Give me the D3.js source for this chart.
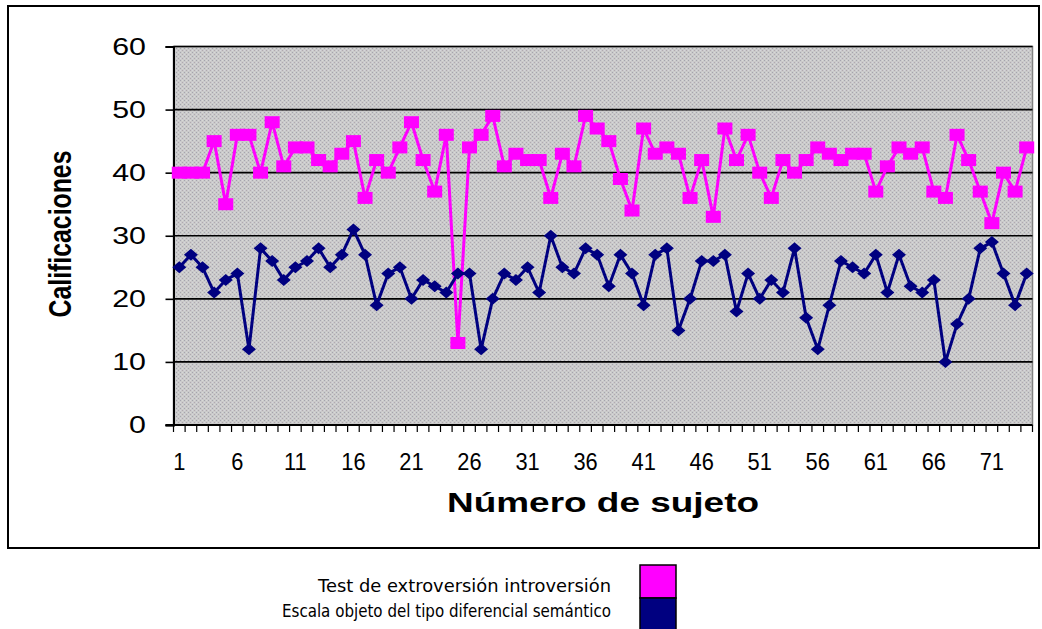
<!DOCTYPE html>
<html>
<head>
<meta charset="utf-8">
<script src="https://cdn.jsdelivr.net/npm/d3@7"></script>
<style>
  html, body { margin: 0; padding: 0; background: #ffffff; }
  svg { display: block; }
</style>
</head>
<body>
<svg id="chart" width="1042" height="629"></svg>
<script>
// ---------- data ----------
const subjects = [1,2,3,4,5,6,7,8,9,10,11,12,13,14,15,16,17,18,19,20,21,22,23,24,25,26,27,28,29,30,31,32,33,34,35,36,37,38,39,40,41,42,43,44,45,46,47,48,49,50,51,52,53,54,55,56,57,58,59,60,61,62,63,64,65,66,67,68,69,70,71,72,73,74];
const extroversion = [40,40,40,45,35,46,46,40,48,41,44,44,42,41,43,45,36,42,40,44,48,42,37,46,13,44,46,49,41,43,42,42,36,43,41,49,47,45,39,34,47,43,44,43,36,42,33,47,42,46,40,36,42,40,42,44,43,42,43,43,37,41,44,43,44,37,36,46,42,37,32,40,37,44];
const diferencial = [25,27,25,21,23,24,12,28,26,23,25,26,28,25,27,31,27,19,24,25,20,23,22,21,24,24,12,20,24,23,25,21,30,25,24,28,27,22,27,24,19,27,28,15,20,26,26,27,18,24,20,23,21,28,17,12,19,26,25,24,27,21,27,22,21,23,10,16,20,28,29,24,19,24];
const xTickLabels = [1,6,11,16,21,26,31,36,41,46,51,56,61,66,71];
const yTickValues = [0,10,20,30,40,50,60];
const seriesNames = ["Test de extroversión introversión", "Escala objeto del tipo diferencial semántico"];
const seriesColors = ["#ff00ff", "#000080"];

// ---------- layout ----------
const svg = d3.select("#chart");
const plot = { left: 173.5, right: 1032.5, top: 46.5, bottom: 425 };

const x = d3.scaleBand().domain(subjects).range([plot.left, plot.right]).padding(0);
const y = d3.scaleLinear().domain([0, 60]).range([plot.bottom, plot.top]);
const bw = x.bandwidth();
const cx = d => x(d) + bw / 2;

// outer chart frame
svg.append("rect")
  .attr("x", 8).attr("y", 6).attr("width", 1031).attr("height", 542)
  .attr("fill", "#ffffff").attr("stroke", "#000").attr("stroke-width", 2);

// dithered gray plot background
const defs = svg.append("defs");
const pat = defs.append("pattern").attr("id", "dither")
  .attr("width", 4).attr("height", 4).attr("patternUnits", "userSpaceOnUse");
pat.append("rect").attr("width", 4).attr("height", 4).attr("fill", "#cacaca");
pat.append("rect").attr("x", 0).attr("y", 0).attr("width", 1).attr("height", 1).attr("fill", "#a4a4ae");
pat.append("rect").attr("x", 2).attr("y", 2).attr("width", 1).attr("height", 1).attr("fill", "#b0a8b0");
pat.append("rect").attr("x", 2).attr("y", 0).attr("width", 1).attr("height", 1).attr("fill", "#d8d8d8");
pat.append("rect").attr("x", 0).attr("y", 2).attr("width", 1).attr("height", 1).attr("fill", "#d6d6dc");

svg.append("rect")
  .attr("x", plot.left).attr("y", plot.top)
  .attr("width", plot.right - plot.left).attr("height", plot.bottom - plot.top)
  .attr("fill", "url(#dither)").attr("stroke", "#808080").attr("stroke-width", 1.5);

// gridlines
svg.append("g").selectAll("line")
  .data(yTickValues.filter(v => v > 0))
  .join("line")
  .attr("x1", plot.left).attr("x2", plot.right)
  .attr("y1", d => y(d)).attr("y2", d => y(d))
  .attr("stroke", "#000").attr("stroke-width", 1.6);

// y axis
const yAxis = d3.axisLeft(y).tickValues(yTickValues).tickSize(8).tickPadding(0).tickFormat("");
const gy = svg.append("g").attr("transform", `translate(${plot.left},0)`).call(yAxis);
gy.select(".domain").attr("stroke", "#000").attr("stroke-width", 2);
gy.selectAll(".tick line").attr("stroke", "#000").attr("stroke-width", 1.6);

svg.append("g").selectAll("text")
  .data(yTickValues)
  .join("text")
  .attr("transform", d => `translate(146,${y(d) + 8}) scale(1.32,1)`)
  .attr("text-anchor", "end")
  .attr("font-family", "Liberation Sans, Arial, sans-serif")
  .attr("font-size", 23)
  .attr("fill", "#000")
  .text(d => d);

// x axis line and category boundary ticks
svg.append("line")
  .attr("x1", plot.left - 8).attr("x2", plot.right)
  .attr("y1", plot.bottom).attr("y2", plot.bottom)
  .attr("stroke", "#000").attr("stroke-width", 2);
const boundaries = subjects.map(d => x(d)).concat([x(subjects[subjects.length - 1]) + bw]);
svg.append("g").selectAll("line")
  .data(boundaries)
  .join("line")
  .attr("x1", d => d).attr("x2", d => d)
  .attr("y1", plot.bottom).attr("y2", plot.bottom + 7)
  .attr("stroke", "#000").attr("stroke-width", 1.2);

svg.append("g").selectAll("text")
  .data(xTickLabels)
  .join("text")
  .attr("transform", d => `translate(${cx(d)},470) scale(0.95,1.05)`)
  .attr("text-anchor", "middle")
  .attr("font-family", "Liberation Sans, Arial, sans-serif")
  .attr("font-size", 23)
  .attr("fill", "#000")
  .text(d => d);

// axis titles
svg.append("text")
  .attr("x", (plot.left + plot.right) / 2).attr("y", 512)
  .attr("text-anchor", "middle")
  .attr("font-family", "Liberation Sans, Arial, sans-serif")
  .attr("font-weight", "bold")
  .attr("font-size", 28)
  .attr("textLength", 312).attr("lengthAdjust", "spacingAndGlyphs")
  .text("Número de sujeto");

svg.append("text")
  .attr("transform", "translate(71,234) rotate(-90)")
  .attr("text-anchor", "middle")
  .attr("font-family", "Liberation Sans, Arial, sans-serif")
  .attr("font-weight", "bold")
  .attr("font-size", 31)
  .attr("textLength", 167).attr("lengthAdjust", "spacingAndGlyphs")
  .text("Calificaciones");

// series
const line = d3.line().x((v, i) => cx(subjects[i])).y(v => y(v));

// magenta series
svg.append("path").datum(extroversion)
  .attr("d", line).attr("fill", "none")
  .attr("stroke", seriesColors[0]).attr("stroke-width", 3).attr("stroke-linejoin", "round");
svg.append("g").selectAll("rect")
  .data(extroversion)
  .join("rect")
  .attr("x", (v, i) => cx(subjects[i]) - 7.5)
  .attr("y", v => y(v) - 6)
  .attr("width", 15).attr("height", 12)
  .attr("fill", seriesColors[0]);

// navy series
svg.append("path").datum(diferencial)
  .attr("d", line).attr("fill", "none")
  .attr("stroke", seriesColors[1]).attr("stroke-width", 3).attr("stroke-linejoin", "round");
svg.append("g").selectAll("path")
  .data(diferencial)
  .join("path")
  .attr("d", (v, i) => {
    const px = cx(subjects[i]), py = y(v);
    return `M${px - 7},${py} L${px},${py - 6} L${px + 7},${py} L${px},${py + 6} Z`;
  })
  .attr("fill", seriesColors[1]);

// legend (outside the frame)
const legendY = [592, 617];
svg.append("g").selectAll("text")
  .data(seriesNames)
  .join("text")
  .attr("x", 611)
  .attr("y", (d, i) => legendY[i])
  .attr("text-anchor", "end")
  .attr("font-family", "DejaVu Sans, Verdana, sans-serif")
  .attr("font-size", 17)
  .attr("textLength", (d, i) => i === 0 ? 293 : 329)
  .attr("lengthAdjust", "spacingAndGlyphs")
  .attr("fill", "#000")
  .text(d => d);

svg.append("g").selectAll("rect")
  .data(seriesColors)
  .join("rect")
  .attr("x", 640)
  .attr("y", (d, i) => 565 + i * 33)
  .attr("width", 36).attr("height", 33)
  .attr("fill", d => d)
  .attr("stroke", "#000").attr("stroke-width", 1.5);
</script>
</body>
</html>
